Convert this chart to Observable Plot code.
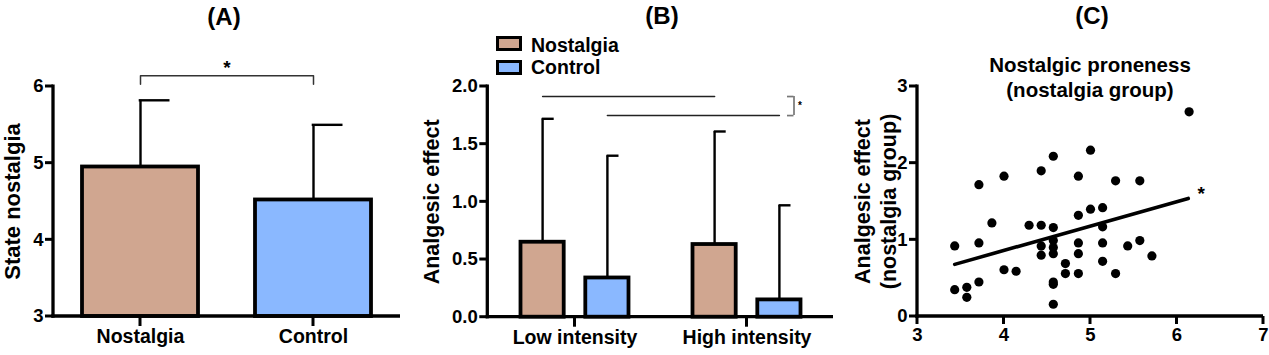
<!DOCTYPE html>
<html><head><meta charset="utf-8">
<script src="https://cdn.jsdelivr.net/npm/d3@7"></script>
<script src="https://cdn.jsdelivr.net/npm/@observablehq/plot@0.6"></script>
<style>
body{margin:0;background:#fff;font-family:"Liberation Sans",Arial,sans-serif;}
#wrap{position:relative;width:1269px;height:355px;overflow:hidden;background:#fff;}
.panel{position:absolute;top:0;}
.ttl{position:absolute;font-weight:bold;font-size:24px;transform:translate(-50%,-50%);white-space:nowrap;color:#000;line-height:1;}
.sub{position:absolute;font-weight:bold;font-size:20.5px;transform:translateX(-50%);white-space:nowrap;color:#000;text-align:center;line-height:25px;}
.sw{position:absolute;box-sizing:border-box;border:3px solid #000;}
.lg{position:absolute;font-weight:bold;font-size:19.5px;color:#000;transform:translateY(-50%);line-height:1;white-space:nowrap;}
</style></head><body>
<div id="wrap">
  <div class="panel" id="A" style="left:0"></div>
  <div class="panel" id="B" style="left:420px"></div>
  <div class="panel" id="C" style="left:840px"></div>
  <div class="ttl" style="left:224px;top:17px">(A)</div>
  <div class="ttl" style="left:662px;top:16px">(B)</div>
  <div class="ttl" style="left:1092px;top:16px">(C)</div>
  <div class="sub" style="left:1090px;top:52px">Nostalgic proneness<br>(nostalgia group)</div>
  <div class="sw" id="swN" style="left:496px;top:36px;width:26px;height:15px"></div>
  <div class="lg" style="left:531px;top:45.5px">Nostalgia</div>
  <div class="sw" id="swC" style="left:496px;top:60px;width:26px;height:15px"></div>
  <div class="lg" style="left:531px;top:67.5px">Control</div>
</div>
<script>
// ---------- data ----------
const groupsA = ["Nostalgia", "Control"];
const meanA = [4.95, 4.52];
const sdA = [0.87, 0.98];
const ticksA = [3, 4, 5, 6];
const sigA = ["*"];
const bracketA = {top: 6.14, tip: 6.03};

const intensities = ["Low intensity", "High intensity"];
const meanNostalgiaB = [0.65, 0.63];
const sdNostalgiaB = [1.07, 0.98];
const meanControlB = [0.34, 0.15];
const sdControlB = [1.06, 0.82];
const ticksB = [0, 0.5, 1, 1.5, 2];
const sigLevelsB = {nostalgia: 1.913, control: 1.748, star: 1.835};

const pronenessC = [3.43,3.43,3.57,3.57,3.71,3.71,3.71,3.86,4.00,4.00,4.14,4.29,4.43,4.43,4.43,4.43,4.57,4.57,4.57,4.57,4.57,4.57,4.57,4.57,4.71,4.71,4.86,4.86,4.86,4.86,4.86,5.00,5.00,5.14,5.14,5.14,5.14,5.29,5.29,5.43,5.57,5.57,5.71,6.14];
const effectC = [0.92,0.35,0.38,0.25,1.72,0.96,0.45,1.22,1.83,0.61,0.59,1.19,1.90,1.19,0.92,0.80,2.09,1.16,0.99,0.90,0.82,0.45,0.42,0.16,0.69,0.56,1.83,1.32,0.96,0.82,0.56,2.17,1.40,1.42,1.17,0.96,0.72,1.77,0.56,0.92,1.77,0.99,0.79,2.67];
const fitXC = [3.43, 6.13];
const fitYC = [0.68, 1.54];
const ticksCx = [3, 4, 5, 6, 7];
const ticksCy = [0, 1, 2, 3];
const sigC = {x: 6.28, y: 1.6, text: "*"};

const colors = {Nostalgia: "#D0A690", Control: "#8AB8FF"};
document.getElementById("swN").style.background = colors.Nostalgia;
document.getElementById("swC").style.background = colors.Control;

const font = "Liberation Sans, Arial, sans-serif";
const style = {fontFamily: font, fontWeight: "bold", fontSize: "18px", color: "#000", background: "transparent", overflow: "visible"};
const tickFont = 18.5;
const catFont = 19.5;

// axis lines + tick stubs, drawn through the plot's own scales
function axisFrame(xTicks, yTicks, xTickSize, yTickSize) {
  return (index, scales, values, dims) => {
    const {width, height, marginLeft, marginRight, marginTop, marginBottom} = dims;
    const lw = 3.3, tw = 3;
    const g = d3.create("svg:g").attr("stroke", "#000").attr("fill", "none");
    const x0 = marginLeft, x1 = width - marginRight, y0 = marginTop, y1 = height - marginBottom;
    g.append("line").attr("x1", x0).attr("x2", x0).attr("y1", y0 - tw / 2).attr("y2", y1 + lw / 2).attr("stroke-width", lw);
    g.append("line").attr("x1", x0 - lw / 2).attr("x2", x1).attr("y1", y1).attr("y2", y1).attr("stroke-width", lw);
    const xs = scales.x, ys = scales.y;
    const off = xs.bandwidth ? xs.bandwidth() / 2 : 0;
    for (const t of xTicks) {
      const px = xs(t) + off;
      g.append("line").attr("x1", px).attr("x2", px).attr("y1", y1).attr("y2", y1 + xTickSize).attr("stroke-width", tw);
    }
    for (const t of yTicks) {
      const py = ys(t);
      g.append("line").attr("x1", x0 - yTickSize).attr("x2", x0).attr("y1", py).attr("y2", py).attr("stroke-width", tw);
    }
    return g.node();
  };
}

// ---------- Panel A ----------
const dataA = groupsA.map((g, i) => ({group: g, mean: meanA[i], upper: meanA[i] + sdA[i]}));
const bracketDataA = [
  {group: groupsA[0], y: bracketA.tip}, {group: groupsA[0], y: bracketA.top},
  {group: groupsA[1], y: bracketA.top}, {group: groupsA[1], y: bracketA.tip}
];
const plotA = Plot.plot({
  width: 420, height: 355, marginLeft: 53, marginRight: 20, marginTop: 86, marginBottom: 39,
  style,
  x: {type: "band", domain: groupsA, paddingInner: 0.33, paddingOuter: 0.165, axis: null},
  y: {domain: [3, 6], axis: null},
  marks: [
    Plot.ruleX(dataA, {x: "group", y1: "mean", y2: "upper", stroke: "#000", strokeWidth: 2.4}),
    Plot.tickY(dataA, {x: "group", y: "upper", insetLeft: 56.7, insetRight: 28.5, stroke: "#000", strokeWidth: 2.4}),
    Plot.barY(dataA, {x: "group", y1: 3, y2: "mean", fill: d => colors[d.group], stroke: "#000", strokeWidth: 3.8}),
    Plot.axisY({ticks: ticksA, tickSize: 0, tickPadding: 10, fontSize: tickFont, fontWeight: "bold", label: null, tickFormat: d3.format("d")}),
    Plot.axisX({tickSize: 0, tickPadding: 13, fontSize: catFont, fontWeight: "bold", label: null}),
    axisFrame(groupsA, ticksA, 10, 8),
    Plot.line(bracketDataA, {x: "group", y: "y", stroke: "#333", strokeWidth: 1.5}),
    Plot.text(sigA, {frameAnchor: "top", lineAnchor: "middle", dy: -19, text: d => d, fontSize: 19, fontWeight: "bold"}),
    Plot.text(["State nostalgia"], {frameAnchor: "left", textAnchor: "middle", lineAnchor: "middle", rotate: -90, dx: -40.5, text: d => d, fontSize: 22, fontWeight: "bold"})
  ]
});
document.getElementById("A").append(plotA);

// ---------- Panel B ----------
const dataB = [];
intensities.forEach((k, i) => {
  dataB.push({intensity: k, cond: "Nostalgia", mean: meanNostalgiaB[i], upper: meanNostalgiaB[i] + sdNostalgiaB[i]});
  dataB.push({intensity: k, cond: "Control", mean: meanControlB[i], upper: meanControlB[i] + sdControlB[i]});
});
const nB = dataB.filter(d => d.cond === "Nostalgia");
const cB = dataB.filter(d => d.cond === "Control");
const plotB = Plot.plot({
  width: 420, height: 355, marginLeft: 67.3, marginRight: 7, marginTop: 86, marginBottom: 38.3,
  style,
  x: {type: "band", domain: intensities, paddingInner: 0.33, paddingOuter: 0.165, axis: null},
  y: {domain: [0, 2], axis: null},
  marks: [
    Plot.ruleX(nB, {x: "intensity", y1: "mean", y2: "upper", dx: -32.4, stroke: "#000", strokeWidth: 2.4}),
    Plot.ruleX(cB, {x: "intensity", y1: "mean", y2: "upper", dx: 32.4, stroke: "#000", strokeWidth: 2.4}),
    Plot.tickY(nB, {x: "intensity", y: "upper", insetLeft: 24.8, insetRight: 78.3, stroke: "#000", strokeWidth: 2.4}),
    Plot.tickY(cB, {x: "intensity", y: "upper", insetLeft: 89.6, insetRight: 13.5, stroke: "#000", strokeWidth: 2.4}),
    Plot.barY(nB, {x: "intensity", y1: 0, y2: "mean", insetLeft: 3.5, insetRight: 68.3, fill: colors.Nostalgia, stroke: "#000", strokeWidth: 3.8}),
    Plot.barY(cB, {x: "intensity", y1: 0, y2: "mean", insetLeft: 68.3, insetRight: 3.5, fill: colors.Control, stroke: "#000", strokeWidth: 3.8}),
    Plot.axisY({ticks: ticksB, tickSize: 0, tickPadding: 10, fontSize: tickFont, fontWeight: "bold", label: null, tickFormat: d3.format(".1f")}),
    Plot.axisX({tickSize: 0, tickPadding: 13, fontSize: catFont, fontWeight: "bold", label: null}),
    axisFrame(intensities, ticksB, 10, 8),
    Plot.line(intensities, {x: d => d, y: () => sigLevelsB.nostalgia, dx: -32.4, stroke: "#222", strokeWidth: 1.5}),
    Plot.line(intensities, {x: d => d, y: () => sigLevelsB.control, dx: 32.4, stroke: "#222", strokeWidth: 1.5}),
    Plot.ruleX([intensities[1]], {x: d => d, y1: sigLevelsB.nostalgia, y2: sigLevelsB.control, dx: 47, stroke: "#777", strokeWidth: 1.7}),
    Plot.tickY([sigLevelsB.nostalgia, sigLevelsB.control], {x: () => intensities[1], y: d => d, insetLeft: 98, insetRight: 10.5, stroke: "#777", strokeWidth: 1.7}),
    Plot.text(["*"], {x: () => intensities[1], y: () => sigLevelsB.star, dx: 53, text: d => d, fontSize: 10, fontWeight: "bold"}),
    Plot.text(["Analgesic effect"], {frameAnchor: "left", textAnchor: "middle", lineAnchor: "middle", rotate: -90, dx: -55.5, text: d => d, fontSize: 21.5, fontWeight: "bold"})
  ]
});
document.getElementById("B").append(plotB);

// ---------- Panel C ----------
const dataC = pronenessC.map((x, i) => ({x, y: effectC[i]}));
const fitC = fitXC.map((x, i) => ({x, y: fitYC[i]}));
const plotC = Plot.plot({
  width: 429, height: 355, marginLeft: 77, marginRight: 6, marginTop: 86, marginBottom: 39,
  style,
  x: {domain: [3, 7], axis: null},
  y: {domain: [0, 3], axis: null},
  marks: [
    Plot.axisY({ticks: ticksCy, tickSize: 0, tickPadding: 10, fontSize: tickFont, fontWeight: "bold", label: null, tickFormat: d3.format("d")}),
    Plot.axisX({ticks: ticksCx, tickSize: 0, tickPadding: 11, fontSize: tickFont, fontWeight: "bold", label: null, tickFormat: d3.format("d")}),
    axisFrame(ticksCx, ticksCy, 8, 8),
    Plot.dot(dataC, {x: "x", y: "y", r: 4.6, fill: "#000"}),
    Plot.line(fitC, {x: "x", y: "y", stroke: "#000", strokeWidth: 3.6}),
    Plot.text([sigC], {x: "x", y: "y", text: "text", fontSize: 19, fontWeight: "bold"}),
    Plot.text(["Analgesic effect\n(nostalgia group)"], {frameAnchor: "left", textAnchor: "middle", lineAnchor: "middle", rotate: -90, dx: -43, lineHeight: 1.2, text: d => d, fontSize: 21.5, fontWeight: "bold"})
  ]
});
document.getElementById("C").append(plotC);
</script>
</body></html>
